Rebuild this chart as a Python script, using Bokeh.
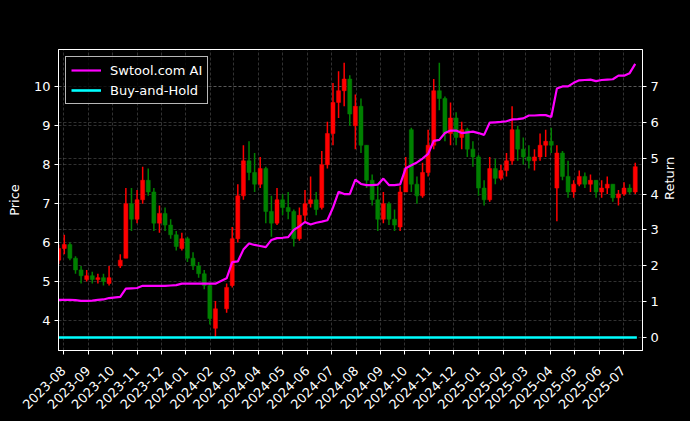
import math
import pandas as pd
from bokeh.plotting import figure
from bokeh.models import (Range1d, LinearAxis, FixedTicker, DatetimeTickFormatter,
                          Grid, Legend, LegendItem, Label, ColumnDataSource)
from bokeh.embed import file_html
from bokeh.resources import INLINE

# ---------------- data (weekly candles) ----------------
all_weeks = pd.date_range("2023-07-26", "2025-07-16", freq="W-WED")
closed_weeks = ["2023-10-04", "2024-02-14"]          # market holidays, no candle
week_dates = [d for d in all_weeks if d.strftime("%Y-%m-%d") not in closed_weeks]

price_open = [5.55, 5.85, 5.95, 5.60, 5.30, 5.05, 5.15, 5.05, 5.10, 4.95,
              5.40, 5.60, 7.00, 6.60, 7.10, 7.60, 7.30, 6.50, 6.75, 6.45,
              6.20, 5.85, 6.10, 5.60, 5.40, 5.20, 4.90, 3.80, 4.30, 4.90,
              6.10, 7.20, 8.10, 7.80, 7.50, 7.90, 6.80, 6.50, 7.10, 6.90,
              6.80, 6.10, 6.70, 7.00, 7.10, 6.90, 8.00, 8.80, 9.60, 9.90,
              10.20, 9.00, 9.50, 8.50, 7.60, 7.10, 6.60, 7.00, 6.60, 6.40,
              7.30, 8.90, 7.50, 7.20, 7.80, 8.50, 9.90, 9.70, 8.80, 9.20,
              8.70, 8.90, 8.40, 8.20, 7.40, 7.10, 7.90, 7.65, 7.85, 8.10,
              8.90, 8.40, 8.20, 8.10, 8.20, 8.50, 8.60, 7.40, 8.30, 7.70,
              7.30, 7.50, 7.70, 7.50, 7.60, 7.30, 7.40, 7.50, 7.15, 7.25,
              7.40, 7.30]
price_high = [5.95, 6.20, 6.00, 5.65, 5.40, 5.30, 5.25, 5.20, 5.20, 5.40,
              5.70, 7.40, 7.40, 7.35, 7.95, 7.90, 7.40, 6.95, 6.90, 6.60,
              6.30, 6.25, 6.15, 5.75, 5.50, 5.30, 4.95, 4.50, 4.95, 6.40,
              7.50, 8.50, 8.60, 8.30, 8.20, 7.95, 7.20, 7.40, 7.25, 7.30,
              6.85, 6.90, 7.35, 7.70, 7.30, 8.35, 9.10, 10.10, 10.40, 10.62,
              10.30, 9.80, 9.70, 8.50, 7.75, 7.45, 7.30, 7.05, 6.85, 7.45,
              8.20, 8.95, 7.70, 8.05, 8.90, 10.20, 10.62, 9.75, 9.60, 9.35,
              9.10, 8.95, 8.60, 8.25, 7.60, 8.20, 8.15, 8.00, 8.30, 9.50,
              9.00, 8.70, 8.50, 8.40, 8.80, 8.90, 8.95, 8.50, 8.35, 8.10,
              7.60, 7.85, 7.80, 7.75, 7.60, 7.60, 7.70, 7.50, 7.35, 7.55,
              7.50, 8.05]
price_low = [5.45, 5.70, 5.55, 5.20, 4.95, 5.00, 4.95, 4.95, 4.90, 4.90,
             5.35, 5.60, 6.30, 6.50, 7.00, 7.20, 6.30, 6.25, 6.30, 6.10,
             5.80, 5.80, 5.50, 5.30, 5.10, 4.80, 3.90, 3.58, 4.20, 4.85,
             6.00, 7.10, 7.60, 7.30, 7.40, 6.50, 6.15, 6.45, 6.70, 6.60,
             5.90, 6.05, 6.50, 6.90, 6.70, 6.85, 7.90, 8.50, 9.20, 9.50,
             9.00, 8.40, 8.30, 7.40, 6.95, 6.30, 6.50, 6.45, 6.30, 6.30,
             7.30, 7.30, 7.00, 7.15, 7.70, 8.40, 9.40, 8.60, 8.50, 8.50,
             8.40, 8.20, 7.95, 7.20, 6.95, 7.05, 7.50, 7.60, 7.70, 8.00,
             8.10, 8.00, 7.90, 7.85, 8.10, 8.20, 8.30, 6.55, 7.60, 7.15,
             7.15, 7.45, 7.40, 7.30, 7.15, 7.15, 7.25, 7.05, 6.95, 7.20,
             7.25, 7.25]
price_close = [5.85, 5.95, 5.60, 5.30, 5.15, 5.15, 5.05, 5.10, 5.00, 5.10,
               5.55, 7.00, 6.60, 7.10, 7.60, 7.30, 6.50, 6.75, 6.45, 6.20,
               5.90, 6.10, 5.60, 5.40, 5.20, 4.90, 4.05, 4.30, 4.85, 6.10,
               7.20, 8.10, 7.80, 7.50, 7.90, 6.80, 6.50, 7.10, 6.90, 6.80,
               6.10, 6.70, 7.00, 7.10, 6.85, 8.00, 8.80, 9.60, 9.90, 10.20,
               9.30, 9.50, 8.50, 7.60, 7.10, 6.60, 7.00, 6.60, 6.45, 7.30,
               7.90, 7.50, 7.20, 7.80, 8.50, 9.90, 9.70, 8.80, 9.20, 8.70,
               8.90, 8.40, 8.20, 7.40, 7.10, 7.90, 7.65, 7.85, 8.10, 8.90,
               8.40, 8.20, 8.10, 8.20, 8.50, 8.60, 8.50, 8.30, 7.70, 7.30,
               7.50, 7.70, 7.50, 7.60, 7.30, 7.40, 7.50, 7.15, 7.25, 7.40,
               7.30, 7.95]

# strategy equity, in units of 1e9 (as read on the right axis)
strategy_return = [1.05, 1.05, 1.05, 1.04, 1.02, 1.02, 1.03, 1.05, 1.06, 1.10,
                   1.13, 1.36, 1.37, 1.38, 1.44, 1.44, 1.44, 1.44, 1.44, 1.45,
                   1.46, 1.50, 1.50, 1.50, 1.50, 1.50, 1.50, 1.50, 1.65, 2.10,
                   2.12, 2.45, 2.62, 2.58, 2.55, 2.52, 2.72, 2.77, 2.78, 2.80,
                   3.00, 3.10, 3.22, 3.15, 3.20, 3.23, 3.27, 3.62, 4.06, 4.00,
                   4.00, 4.40, 4.28, 4.25, 4.25, 4.26, 4.43, 4.25, 4.25, 4.27,
                   4.72, 4.80, 4.88, 4.99, 5.12, 5.48, 5.51, 5.70, 5.77, 5.77,
                   5.70, 5.72, 5.74, 5.70, 5.65, 5.99, 6.00, 6.01, 6.03, 6.08,
                   6.09, 6.11, 6.19, 6.19, 6.20, 6.20, 6.15, 6.94, 7.00, 7.00,
                   7.10, 7.17, 7.18, 7.19, 7.15, 7.18, 7.19, 7.20, 7.30, 7.30,
                   7.37, 7.63]

# buy-and-hold equity in units of 1e9 (flat at 0 on that scale)
bh_dates = ["2023-07-26", "2025-07-18"]
bh_return = [0.0, 0.0]

month_ticks = ["2023-08-01", "2023-09-01", "2023-10-01", "2023-11-01", "2023-12-01",
               "2024-01-01", "2024-02-01", "2024-03-01", "2024-04-01", "2024-05-01",
               "2024-06-01", "2024-07-01", "2024-08-01", "2024-09-01", "2024-10-01",
               "2024-11-01", "2024-12-01", "2025-01-01", "2025-02-01", "2025-03-01",
               "2025-04-01", "2025-05-01", "2025-06-01", "2025-07-01"]
price_ticks = [4, 5, 6, 7, 8, 9, 10]
return_ticks = [0, 1, 2, 3, 4, 5, 6, 7]

# ---------------- figure ----------------
FONT = "DejaVu Sans"
W, H = 690, 421
x_start = pd.Timestamp("2023-07-25 18:00")
x_end = pd.Timestamp("2025-07-25 02:00")
p_lo, p_hi = 3.23, 10.958
r_lo, r_hi = -0.363, 8.03

p = figure(width=W, height=H, x_axis_type="datetime",
           x_range=Range1d(x_start, x_end), y_range=Range1d(p_lo, p_hi),
           output_backend="svg", toolbar_location=None,
           min_border_left=58, min_border_right=48, min_border_top=49, min_border_bottom=71)
p.extra_y_ranges = {"ret": Range1d(r_lo, r_hi)}
p.background_fill_color = "black"
p.border_fill_color = "black"
p.outline_line_color = "white"
p.outline_line_alpha = 1.0
p.outline_line_width = 1

up_color, down_color = "#ff0000", "#008000"
colors = [up_color if c >= o else down_color for o, c in zip(price_open, price_close)]
src = ColumnDataSource(dict(date=week_dates, open=price_open, high=price_high,
                            low=price_low, close=price_close, color=colors))
p.segment(x0="date", y0="low", x1="date", y1="high", color="color", line_width=1.5, source=src)
p.vbar(x="date", width=5 * 86400000, top="open", bottom="close",
       fill_color="color", line_color="color", line_width=0.5, source=src)

mag = p.line(week_dates, strategy_return, line_color="#ff00ff", line_width=2.2,
             y_range_name="ret")
cy = p.line(pd.to_datetime(bh_dates), bh_return, line_color="#00ffff", line_width=2.6,
            y_range_name="ret")

# axes
right = LinearAxis(y_range_name="ret", axis_label="Return",
                   ticker=FixedTicker(ticks=return_ticks))
p.add_layout(right, "right")
p.yaxis[0].ticker = FixedTicker(ticks=price_ticks)
p.yaxis[0].axis_label = "Price"
p.xaxis.ticker = FixedTicker(ticks=[pd.Timestamp(t).value // 10**6 for t in month_ticks])
fmt = "%Y-%m"
p.xaxis.formatter = DatetimeTickFormatter(microseconds=fmt, milliseconds=fmt, seconds=fmt,
                                          minsec=fmt, minutes=fmt, hourmin=fmt, hours=fmt,
                                          days=fmt, months=fmt, years=fmt)
p.xaxis.major_label_orientation = math.pi / 4

for ax in [p.xaxis[0], p.yaxis[0], right]:
    ax.axis_line_color = "white"
    ax.major_tick_line_color = "white"
    ax.minor_tick_line_color = None
    ax.major_tick_out = 4
    ax.major_tick_in = 0
    ax.major_label_text_color = "white"
    ax.major_label_text_font = FONT
    ax.major_label_text_font_size = "13px"
    ax.axis_label_text_color = "white"
    ax.axis_label_text_font = FONT
    ax.axis_label_text_font_size = "13px"
    ax.axis_label_text_font_style = "normal"
    ax.major_label_standoff = 4
p.xaxis[0].major_label_standoff = 14
p.yaxis[0].axis_label_standoff = 9
right.axis_label_standoff = 8
right.axis_label_orientation = math.pi / 2

# grids
for g in [p.xgrid[0], p.ygrid[0]]:
    g.grid_line_color = "#ffffff"
    g.grid_line_alpha = 0.28
    g.grid_line_dash = "3 2"
    g.grid_line_width = 0.7
rgrid = Grid(dimension=1, ticker=right.ticker, y_range_name="ret",
             grid_line_color="#ffffff", grid_line_alpha=0.28,
             grid_line_dash="3 2", grid_line_width=0.7)
p.add_layout(rgrid)

# title and offset text
mid = x_start + (x_end - x_start) / 2
p.add_layout(Label(x=mid, y=p_hi, x_offset=-5, y_offset=33, text="cnstock [600733.SH]",
                   text_align="center", text_baseline="middle", text_color="white",
                   text_font=FONT, text_font_size="16px"))
p.add_layout(Label(x=x_end, y=p_hi, x_offset=3, y_offset=3, text="1e9",
                   text_align="left", text_baseline="bottom", text_color="white",
                   text_font=FONT, text_font_size="13px"))

legend = Legend(items=[LegendItem(label="Swtool.com AI", renderers=[mag]),
                       LegendItem(label="Buy-and-Hold", renderers=[cy])],
                location="top_left", margin=7, padding=5, spacing=4,
                label_height=16, glyph_height=16, glyph_width=30, label_standoff=9,
                background_fill_color="black", background_fill_alpha=0.8,
                border_line_color="#cccccc", border_line_alpha=0.9,
                label_text_color="white", label_text_font=FONT, label_text_font_size="13px")
p.add_layout(legend)

html = file_html(p, INLINE)
html = html.replace("<head>", "<head><style>body{background:#000000;}</style>", 1)
open("out.html", "w").write(html)
